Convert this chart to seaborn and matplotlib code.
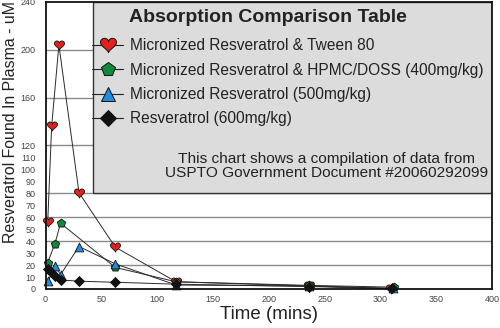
import numpy as np
import pandas as pd
import matplotlib
matplotlib.use("Agg")
import matplotlib.pyplot as plt
from matplotlib.path import Path
from matplotlib.lines import Line2D
from matplotlib.patches import Rectangle
from matplotlib import font_manager
import seaborn as sns

# Plasma concentration (uM) over time (mins) for each formulation
series_names = [
    "Micronized Resveratrol & Tween 80",
    "Micronized Resveratrol & HPMC/DOSS (400mg/kg)",
    "Micronized Resveratrol (500mg/kg)",
    "Resveratrol (600mg/kg)",
]
tween_time = [2, 5.5, 12, 30, 62.5, 117, 236.5, 309.5]
tween_conc = [56, 136, 204, 80.5, 35, 6, 2.5, 0]
hpmc_time = [2, 8.5, 13.5, 62.5, 117, 236.5, 312.5]
hpmc_conc = [22, 38, 55, 18, 6, 3, 1.5]
micro_time = [2, 8.5, 13.5, 30, 62.5, 117, 236.5, 311]
micro_conc = [6.5, 19, 12, 35.5, 21, 3.3, 2.5, 0.5]
resv_time = [2, 5, 8.5, 13.5, 30, 62.5, 117, 236.5, 310]
resv_conc = [17, 14, 11, 7.5, 6.5, 5.6, 4, 2, 0.5]

x_ticks = [0, 50, 100, 150, 200, 250, 300, 350, 400]
y_ticks = [0, 10, 20, 30, 40, 50, 60, 70, 80, 90, 100, 110, 120, 160, 200, 240]
y_grid = [20, 40, 60, 80, 120, 160, 200]

note_text = ("This chart shows a compilation of data from\n"
             "USPTO Government Document #20060292099")

# Heart-shaped marker path
t = np.linspace(0, 2 * np.pi, 120)
hx = 16 * np.sin(t) ** 3
hy = 13 * np.cos(t) - 5 * np.cos(2 * t) - 2 * np.cos(3 * t) - np.cos(4 * t)
heart = Path(np.column_stack([hx, hy + 2.5]), closed=True)

colors = ["#e3201e", "#0f8a3c", "#1e8ce0", "#111111"]
markers = [heart, "p", "^", "D"]
msizes = [52, 40, 40, 26]
leg_ms = [11.5, 10, 10, 8]

frames = []
for name, tx, cy in zip(series_names,
                        [tween_time, hpmc_time, micro_time, resv_time],
                        [tween_conc, hpmc_conc, micro_conc, resv_conc]):
    frames.append(pd.DataFrame({"time": tx, "conc": cy, "series": name}))
df = pd.concat(frames, ignore_index=True)

sns.set_theme(style="white")
plt.rcParams["font.family"] = ["Liberation Sans", "DejaVu Sans"]

narrow = "Liberation Sans Narrow"
installed = {f.name for f in font_manager.fontManager.ttflist}
ylabel_family = [narrow, "DejaVu Sans"] if narrow in installed else ["Liberation Sans", "DejaVu Sans"]
ylabel_size = 13.8 if narrow in installed else 11.4

fig = plt.figure(figsize=(5.0, 3.28), dpi=100)
ax = fig.add_axes([0.091, 0.119, 0.893, 0.875])

for name in series_names:
    sub = df[df["series"] == name]
    sns.lineplot(data=sub, x="time", y="conc", color="#2a2a2a", linewidth=0.7,
                 sort=False, estimator=None, ax=ax, legend=False, zorder=3)

for name, col, mk, ms in zip(series_names, colors, markers, msizes):
    sub = df[df["series"] == name]
    sns.scatterplot(data=sub, x="time", y="conc", color=col, marker=mk, s=ms,
                    edgecolor="#111111", linewidth=0.6, ax=ax, legend=False,
                    zorder=4, clip_on=False)

ax.set_xlim(0, 400)
ax.set_ylim(0, 240)
for g in y_grid:
    ax.axhline(g, color="#8a8a8a", linewidth=1.0, zorder=1)

# Info panel with legend and note
panel = Rectangle((43, 80), 357, 160, facecolor="#dcdcdc", edgecolor="#333333",
                  linewidth=1.0, zorder=5)
ax.add_patch(panel)

handles = [Line2D([0], [0], color="#222222", linewidth=0.8, marker=mk,
                  markersize=ms, markerfacecolor=col, markeredgecolor="#111111",
                  markeredgewidth=0.7)
           for col, mk, ms in zip(colors, markers, leg_ms)]
leg = ax.legend(handles, series_names, loc="upper left",
                bbox_to_anchor=(0.105, 0.873), frameon=False, fontsize=11.2,
                handlelength=2.0, handletextpad=0.4, labelspacing=0.6,
                borderaxespad=0.0, borderpad=0.0)
leg.set_zorder(6)
for txt in leg.get_texts():
    txt.set_color("#222222")

ax.text(0.498, 1 - 16 / 287, "Absorption Comparison Table", transform=ax.transAxes,
        ha="center", va="center", fontsize=14, fontweight="bold",
        color="#222222", zorder=7)
ax.text(0.629, 1 - 164 / 287, note_text, transform=ax.transAxes,
        ha="center", va="center", fontsize=11.1, color="#222222",
        linespacing=0.95, zorder=7)

ax.set_xticks(x_ticks)
ax.set_yticks(y_ticks)
ax.set_xticklabels([str(v) for v in x_ticks], fontsize=6.5, color="#444444")
ax.set_yticklabels([str(v) for v in y_ticks], fontsize=6.5, color="#444444")
ax.tick_params(axis="x", length=0, pad=4)
ax.tick_params(axis="y", length=0, pad=7)

ax.set_xlabel("Time (mins)", fontsize=13.5, color="#222222", labelpad=2)
ax.set_ylabel("Resveratrol Found In Plasma - uM", fontsize=ylabel_size,
              family=ylabel_family, color="#222222")
ax.yaxis.set_label_coords(-0.062, 0.58)

for sp in ax.spines.values():
    sp.set_color("#111111")
    sp.set_linewidth(1.3)
    sp.set_visible(True)
    sp.set_zorder(8)

fig.savefig("out.png", dpi=100, facecolor="white")
